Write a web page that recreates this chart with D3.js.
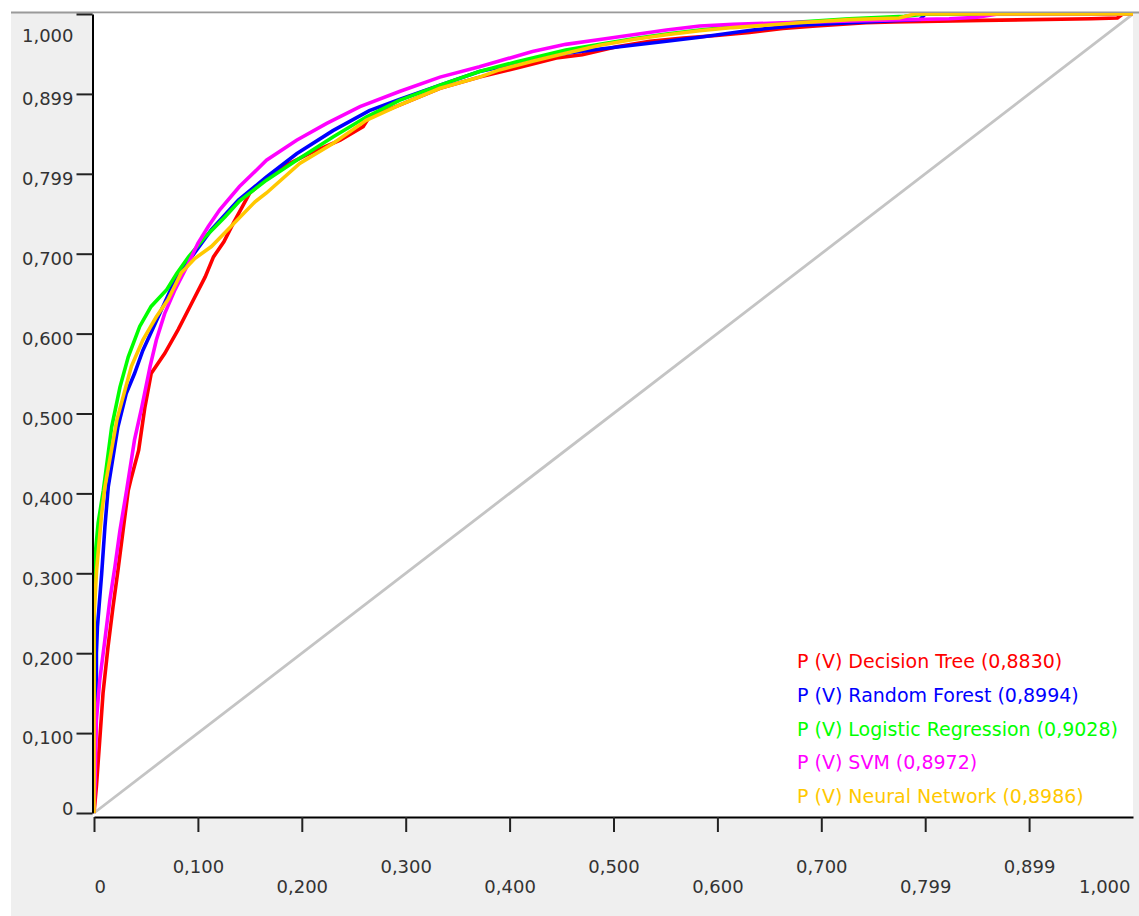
<!DOCTYPE html>
<html>
<head>
<meta charset="utf-8">
<script src="https://cdn.jsdelivr.net/npm/d3@7"></script>
<style>
  html, body { margin: 0; padding: 0; background: #ffffff; }
  svg { display: block; }
  text { font-family: "DejaVu Sans", Verdana, sans-serif; }
</style>
</head>
<body>
<svg id="chart" width="1139" height="916"></svg>
<script>
// ---------- data ----------
const yTickValues = [0, 0.1, 0.2, 0.3, 0.4, 0.5, 0.6, 0.7, 0.8, 0.9, 1.0];
const yTickLabels = ["0", "0,100", "0,200", "0,300", "0,400", "0,500", "0,600", "0,700", "0,799", "0,899", "1,000"];
const xTickValues = [0, 0.1, 0.2, 0.3, 0.4, 0.5, 0.6, 0.7, 0.8, 0.9, 1.0];
const xTickLabels = ["0", "0,100", "0,200", "0,300", "0,400", "0,500", "0,600", "0,700", "0,799", "0,899", "1,000"];

const seriesNames = ["P (V) Decision Tree (0,8830)", "P (V) Random Forest (0,8994)", "P (V) Logistic Regression (0,9028)", "P (V) SVM (0,8972)", "P (V) Neural Network (0,8986)"];
const seriesColors = ["#ff0000", "#0000ff", "#00ff00", "#ff00ff", "#ffc800"];

const decisionTreeFpr = [0, 0.0023, 0.0055, 0.0087, 0.0135, 0.0183, 0.0231, 0.028, 0.033, 0.036, 0.043, 0.049, 0.055, 0.068, 0.081, 0.094, 0.107, 0.115, 0.125, 0.134, 0.150, 0.176, 0.208, 0.237, 0.259, 0.265, 0.294, 0.333, 0.371, 0.406, 0.445, 0.470, 0.503, 0.535, 0.567, 0.599, 0.631, 0.663, 0.695, 0.743, 0.770, 0.855, 0.960, 0.985, 0.990, 1.0];
const decisionTreeTpr = [0, 0.033, 0.091, 0.150, 0.208, 0.258, 0.304, 0.354, 0.404, 0.420, 0.454, 0.508, 0.550, 0.575, 0.605, 0.638, 0.671, 0.696, 0.715, 0.738, 0.776, 0.805, 0.826, 0.842, 0.859, 0.871, 0.886, 0.907, 0.921, 0.932, 0.945, 0.949, 0.959, 0.966, 0.970, 0.973, 0.977, 0.982, 0.985, 0.989, 0.990, 0.992, 0.994, 0.995, 1.0, 1.0];

const randomForestFpr = [0, 0.0007, 0.0023, 0.0023, 0.0033, 0.0074, 0.0105, 0.0137, 0.023, 0.031, 0.039, 0.047, 0.059, 0.078, 0.094, 0.113, 0.139, 0.166, 0.195, 0.230, 0.265, 0.294, 0.333, 0.371, 0.406, 0.454, 0.506, 0.551, 0.583, 0.634, 0.679, 0.759, 0.795, 0.800, 1.0];
const randomForestTpr = [0, 0.063, 0.133, 0.200, 0.233, 0.300, 0.358, 0.408, 0.483, 0.525, 0.550, 0.579, 0.613, 0.667, 0.696, 0.730, 0.767, 0.796, 0.825, 0.854, 0.879, 0.893, 0.911, 0.928, 0.938, 0.951, 0.959, 0.966, 0.971, 0.980, 0.986, 0.991, 0.993, 1.0, 1.0];

const logisticFpr = [0, 0, 0.004, 0.009, 0.017, 0.025, 0.033, 0.044, 0.055, 0.070, 0.0795, 0.091, 0.107, 0.126, 0.140, 0.166, 0.195, 0.230, 0.262, 0.294, 0.333, 0.371, 0.406, 0.422, 0.454, 0.487, 0.519, 0.551, 0.583, 0.615, 0.679, 0.727, 0.780, 0.800, 1.0];
const logisticTpr = [0, 0.307, 0.363, 0.404, 0.483, 0.533, 0.571, 0.609, 0.634, 0.655, 0.675, 0.696, 0.721, 0.746, 0.766, 0.792, 0.817, 0.846, 0.871, 0.892, 0.911, 0.928, 0.940, 0.945, 0.955, 0.962, 0.969, 0.975, 0.980, 0.984, 0.990, 0.994, 0.997, 1.0, 1.0];

const svmFpr = [0, 0.001, 0.0023, 0.0055, 0.0105, 0.0153, 0.0201, 0.025, 0.0314, 0.039, 0.046, 0.054, 0.060, 0.068, 0.078, 0.091, 0.100, 0.110, 0.121, 0.140, 0.166, 0.195, 0.224, 0.256, 0.294, 0.333, 0.371, 0.395, 0.422, 0.454, 0.487, 0.519, 0.551, 0.583, 0.615, 0.663, 0.750, 0.823, 0.850, 0.870, 1.0];
const svmTpr = [0, 0.040, 0.116, 0.166, 0.217, 0.267, 0.308, 0.354, 0.404, 0.467, 0.508, 0.559, 0.592, 0.625, 0.655, 0.688, 0.713, 0.734, 0.755, 0.784, 0.817, 0.842, 0.863, 0.884, 0.903, 0.921, 0.934, 0.943, 0.953, 0.962, 0.968, 0.974, 0.980, 0.985, 0.987, 0.989, 0.992, 0.994, 0.996, 1.0, 1.0];

const neuralFpr = [0, 0, 0.0025, 0.0074, 0.0105, 0.022, 0.036, 0.047, 0.060, 0.071, 0.084, 0.097, 0.113, 0.125, 0.155, 0.166, 0.198, 0.230, 0.262, 0.294, 0.333, 0.371, 0.390, 0.422, 0.454, 0.487, 0.519, 0.551, 0.583, 0.615, 0.679, 0.727, 0.775, 0.790, 1.0];
const neuralTpr = [0, 0.245, 0.304, 0.375, 0.408, 0.492, 0.559, 0.592, 0.621, 0.642, 0.676, 0.694, 0.709, 0.725, 0.765, 0.776, 0.813, 0.838, 0.867, 0.886, 0.907, 0.921, 0.930, 0.941, 0.951, 0.961, 0.968, 0.974, 0.979, 0.983, 0.989, 0.993, 0.995, 1.0, 1.0];

const diagonalX = [0, 1];
const diagonalY = [0, 1];

// ---------- build ----------
const seriesFpr = [decisionTreeFpr, randomForestFpr, logisticFpr, svmFpr, neuralFpr];
const seriesTpr = [decisionTreeTpr, randomForestTpr, logisticTpr, svmTpr, neuralTpr];
const series = seriesNames.map((name, i) => ({
  name, color: seriesColors[i],
  points: seriesFpr[i].map((f, j) => [f, seriesTpr[i][j]])
}));

const svg = d3.select("#chart");
const W = 1139, H = 916;

const x = d3.scaleLinear().domain([0, 1]).range([94, 1133]);
const y = d3.scaleLinear().domain([0, 1]).range([813, 14]);

// panel background
svg.append("rect").attr("x", 11).attr("y", 12).attr("width", W - 11).attr("height", H - 12).attr("fill", "#efefef");
svg.append("line").attr("x1", 11).attr("x2", W).attr("y1", 12.5).attr("y2", 12.5).attr("stroke", "#9a9a9a").attr("stroke-width", 2);

// plot area
svg.append("rect").attr("x", 93).attr("y", 13.5).attr("width", 1133 - 93).attr("height", 817 - 13.5).attr("fill", "#ffffff");

svg.append("defs").append("clipPath").attr("id", "plotclip")
  .append("rect").attr("x", 93).attr("y", 13).attr("width", 1133 - 93).attr("height", 817 - 13);

const plot = svg.append("g").attr("clip-path", "url(#plotclip)");

// diagonal
plot.append("path")
  .datum(diagonalX.map((d, i) => [d, diagonalY[i]]))
  .attr("fill", "none").attr("stroke", "#c4c4c4").attr("stroke-width", 2.8)
  .attr("d", d3.line().x(d => x(d[0])).y(d => y(d[1])));

const line = d3.line().x(d => x(d[0])).y(d => y(d[1]));
series.forEach(s => {
  plot.append("path").datum(s.points)
    .attr("fill", "none").attr("stroke", s.color).attr("stroke-width", 3.6)
    .attr("stroke-linejoin", "miter")
    .attr("d", line);
});

// y axis
const yAxis = d3.axisLeft(y).tickValues(yTickValues)
  .tickFormat((d, i) => yTickLabels[i]).tickSize(16).tickSizeOuter(0);
const gy = svg.append("g").attr("transform", "translate(92.5,0)").call(yAxis);
gy.select(".domain").attr("stroke", "#000").attr("stroke-width", 2);
gy.selectAll(".tick line").attr("stroke", "#222").attr("stroke-width", 2);
gy.selectAll(".tick text")
  .attr("x", -19).attr("dy", (d, i) => i === 0 ? "0.1em" : (i === yTickValues.length - 1 ? "1.55em" : "0.6em"))
  .attr("fill", "#333").style("font-size", "18px").style("font-family", "DejaVu Sans");

// x axis
const xAxis = d3.axisBottom(x).tickValues(xTickValues)
  .tickFormat((d, i) => xTickLabels[i]).tickSize(15).tickSizeOuter(0);
const gx = svg.append("g").attr("transform", "translate(0,817)").call(xAxis);
gx.select(".domain").attr("stroke", "#000").attr("stroke-width", 2);
gx.selectAll(".tick line").attr("stroke", "#222").attr("stroke-width", 2)
  .attr("display", (d, i) => i === xTickValues.length - 1 ? "none" : null);
gx.selectAll(".tick text")
  .attr("y", (d, i) => i % 2 === 1 ? 56 : 76).attr("dy", 0)
  .attr("text-anchor", (d, i) => i === 0 ? "start" : (i === xTickValues.length - 1 ? "end" : "middle"))
  .attr("dx", (d, i) => i === xTickValues.length - 1 ? -3 : 0)
  .attr("fill", "#333").style("font-size", "18px").style("font-family", "DejaVu Sans");

// legend
const legend = svg.append("g");
series.forEach((s, i) => {
  legend.append("text")
    .attr("x", 797).attr("y", 668 + i * 33.8)
    .attr("fill", s.color).style("font-size", "19px")
    .text(s.name);
});
</script>
</body>
</html>
